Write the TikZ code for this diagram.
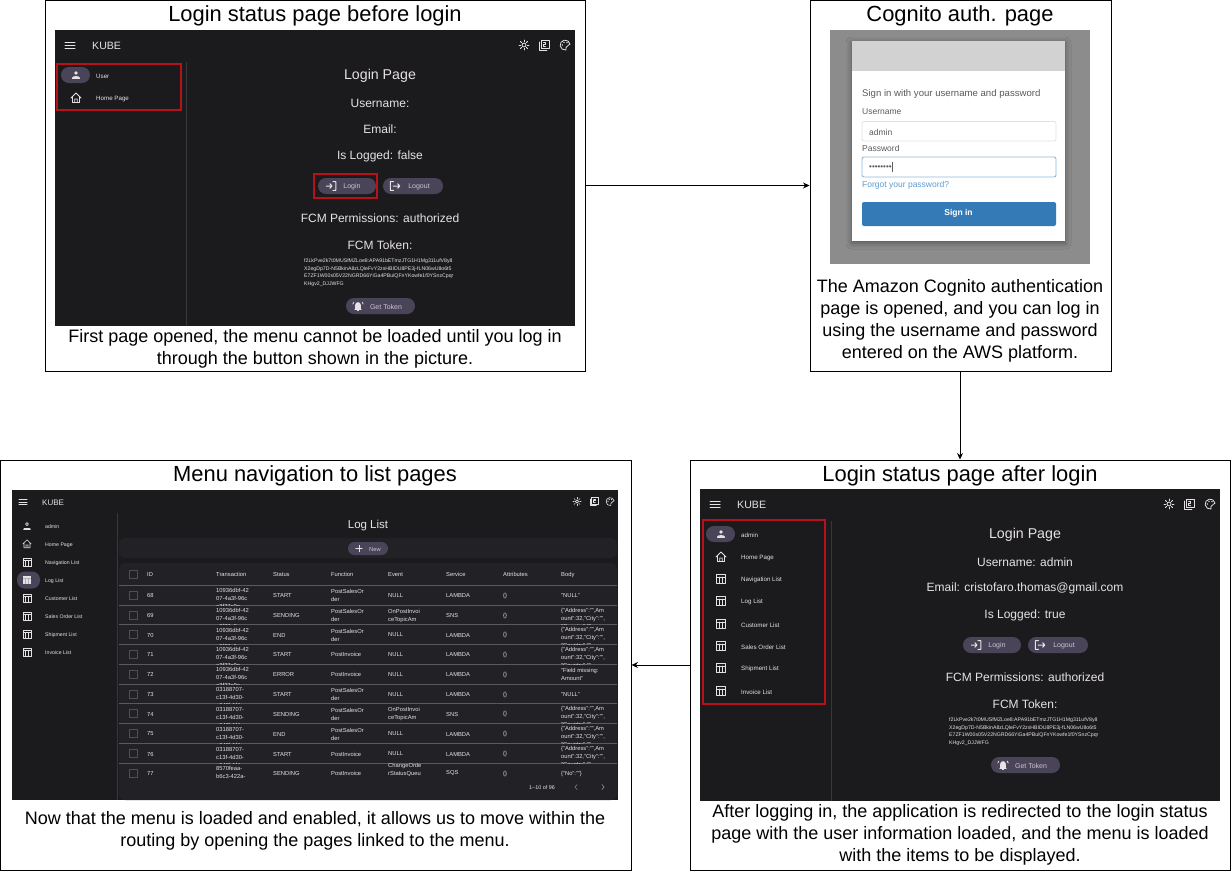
\documentclass[tikz,border=0pt]{standalone}
\usepackage{fontspec}
\setmainfont{Liberation Sans}
\usetikzlibrary{arrows.meta,shadows.blur}
\definecolor{scr}{HTML}{1B1B1E}
\definecolor{panelc}{HTML}{222226}
\definecolor{ink}{HTML}{E6E1E5}
\definecolor{inkb}{HTML}{CAC4D0}
\definecolor{btn}{HTML}{4A4458}
\definecolor{divc}{HTML}{38383C}
\definecolor{redbox}{HTML}{B5121B}
\definecolor{cogbg}{HTML}{8C8C8C}
\definecolor{coghead}{HTML}{D2D2D2}
\definecolor{cogblue}{HTML}{337AB7}
\definecolor{coglink}{HTML}{5C9BD1}
\definecolor{cogtxt}{HTML}{5A5A5A}
\tikzset{
  frame/.style={draw=black,line width=1pt,fill=white,inner sep=0pt},
  link/.style={draw=black,line width=.9pt,-{Stealth[length=6.5pt,width=6pt]}},
  titlec/.style={font=\fontsize{21.9}{25}\selectfont,text=black,inner sep=0pt},
  capc/.style={font=\fontsize{18}{22}\selectfont,text=black,align=center,inner sep=0pt},
  stxt/.style={text=ink,inner sep=0pt,yshift=-1pt,font=\fontsize{#1}{#1}\selectfont},
  btnshape/.style={fill=btn,rounded corners=8pt,draw=none},
  icn/.style={draw=ink,line width=.8pt,fill=none,line cap=round,line join=round},
  cell/.style={text=ink,inner sep=0pt,anchor=west,yshift=-.5pt,align=left,font=\fontsize{5.8}{8}\selectfont},
  ctxt/.style={inner sep=0pt,anchor=west,text=cogtxt,yshift=-1pt,font=\fontsize{#1}{#1}\selectfont},
  ictable/.pic={\draw[icn] (-4.5,-4.5) rectangle (4.5,4.5); \draw[icn] (-4.5,-2) -- (4.5,-2) (-1.5,-2) -- (-1.5,4.5) (1.5,-2) -- (1.5,4.5);},
  ictablef/.pic={\fill[ink] (-4.5,-4.5) rectangle (4.5,-1.5) (-4.5,-1) rectangle (-2,4.5) (-1.2,-1) rectangle (1.2,4.5) (2,-1) rectangle (4.5,4.5);},
  ichome/.pic={\draw[icn] (-5,0) -- (0,-5) -- (5,0) (-3.5,-1) -- (-3.5,4.5) -- (3.5,4.5) -- (3.5,-1) (-1.2,4.5) -- (-1.2,1) -- (1.2,1) -- (1.2,4.5);},
  icperson/.pic={\fill[ink] (0,-2.2) circle (2); \fill[ink] (-4,4) -- (-4,2.8) .. controls (-4,.6) and (4,.6) .. (4,2.8) -- (4,4) -- cycle;},
  icpersono/.pic={\draw[icn] (0,-2.2) circle (1.8); \draw[icn] (-4,4) -- (4,4) (-3.5,2.5) -- (3.5,2.5);},
  icmenu/.pic={\draw[icn,line width=1pt] (-5,-3) -- (5,-3) (-5,0) -- (5,0) (-5,3) -- (5,3);},
  icsun/.pic={\draw[icn] (0,0) circle (2); \foreach \a in {0,45,...,315} {\draw[icn] (\a:3.4) -- (\a:5);}},
  icnotes/.pic={\draw[icn] (-3,-5) rectangle (5,3); \draw[icn] (-5,-3) -- (-5,5) -- (3,5); \draw[icn,line width=.6pt] (-.5,-3) -- (1.5,-3) -- (1.5,-1) -- (-.5,-1) -- (-.5,1) -- (1.5,1);},
  icpalette/.pic={\draw[icn] (1,5) arc (80:350:5) .. controls (5,-1) and (2,1) .. (1,2.5) -- cycle; \fill[ink] (-2.6,0) circle (.8) (-1,-2.6) circle (.8) (2,-2.4) circle (.8);},
  iclogin/.pic={\draw[icn,line width=1pt] (-5,0) -- (1,0) (-1.2,-2.4) -- (1,0) -- (-1.2,2.4) (2,-4.5) -- (5,-4.5) -- (5,4.5) -- (2,4.5);},
  iclogout/.pic={\draw[icn,line width=1pt] (-1.5,-4.5) -- (-5,-4.5) -- (-5,4.5) -- (-1.5,4.5) (-2,0) -- (5,0) (2.8,-2.4) -- (5,0) -- (2.8,2.4);},
  icbell/.pic={\fill[ink] (-3,3) -- (-3,-1) .. controls (-3,-5) and (3,-5) .. (3,-1) -- (3,3) -- (4,4) -- (-4,4) -- cycle; \fill[ink] (-1,4.5) rectangle (1,5.5); \draw[icn] (-5.5,-2) -- (-4.5,-4) (5.5,-2) -- (4.5,-4);},
  icplus/.pic={\draw[icn,line width=1pt] (-3.5,0) -- (3.5,0) (0,-3.5) -- (0,3.5);},
  icchev/.pic={\draw[icn,draw=#1,line width=.7pt] (-1.2,-2.5) -- (1.2,0) -- (-1.2,2.5);},
  icchevl/.pic={\draw[icn,draw=#1,line width=.7pt] (1.2,-2.5) -- (-1.2,0) -- (1.2,2.5);}
}
\newcommand{\loginshot}[5]{%
  \fill[scr] (0,0) rectangle (520,#2);
  \draw[divc,line width=.7pt] (131,32) -- (131,#2);
  \pic at (15,15) {icmenu};
  \node[stxt=10.6,anchor=west] (#1kube) at (37,15) {KUBE};
  \pic at (469,15) {icsun};
  \pic at (489,15) {icnotes};
  \pic at (510,15) {icpalette};
  \node[stxt=14.2] (#1page) at (325,45) {Login Page};
  \node[stxt=12] (#1user) at (325,72) {Username:#3};
  \node[stxt=12] (#1mail) at (325,98) {Email:#4};
  \node[stxt=12] (#1log) at (325,125) {Is Logged: #5};
  \fill[btnshape] (263,148) rectangle (321,164);
  \fill[btnshape] (328,148) rectangle (388,164);
  \pic[scale=.95] at (276,156) {iclogin};
  \pic[scale=.95] at (340,156) {iclogout};
  \node[stxt=7,text=inkb] (#1blogin) at (297,156) {Login};
  \node[stxt=7,text=inkb] (#1blogout) at (364,156) {Logout};
  \node[stxt=12] (#1perm) at (325,187) {FCM Permissions: authorized};
  \node[stxt=12] (#1tok) at (325,214) {FCM Token:};
  \node[text=ink,inner sep=0pt,anchor=north west,align=left,font=\fontsize{5.2}{7.7}\selectfont] (#1tokv) at (249,228.5)
    {f2LkPve2k7t0MUSfMZLoe8:APA91bETmzJTG1H1Mg311ufV8y8\\X2egDp7D-N5BkinA8zLQleFvY2zsHBIDU8PE3j-fLN06wU8o6t5\\E7ZF1W00s05V22NGRD66YiGa4PBulQFnYKowfe1f0YSnzCpqr\\KHgv2\_DJJWFG};
  \fill[btnshape] (291,268) rectangle (360,284);
  \pic[scale=.95] at (303,276) {icbell};
  \node[stxt=7,text=inkb] (#1bget) at (331,276) {Get Token};
}
\newcommand{\sideitem}[4]{%
  \pic at (21,#2) {#3};
  \node[stxt=6.2,anchor=west] (#1) at (41,#2) {#4};
}
\newcommand{\lrow}[8]{%
  \begin{scope}
    \clip (119,#1) rectangle (617,#2);
    \draw[inkb!40!black,line width=.6pt] (129,#1+6) rectangle (137,#1+14);
    \node[cell] (id#3) at (147,#1+10) {#3};
    \node[cell] (tx#3) at (216,#1+13) {#4};
    \node[cell] (st#3) at (273,#1+10) {#5};
    \node[cell] (fn#3) at (331,#1+10) {#6};
    \node[cell] (ev#3) at (388,#1+10) {#7};
    \node[cell] (sv#3) at (446,#1+10) {#8};
    \node[cell] (at#3) at (503,#1+10) {\{\}};
  \end{scope}
}
\newcommand{\lbody}[5]{%
  \begin{scope}
    \clip (555,#1) rectangle (617,#2);
    \node[cell] (bd#3) at (561,#1+#4) {#5};
  \end{scope}
}
\newcommand{\txa}{10936dbf-42\\07-4a3f-96c\\a3f27c0e}
\newcommand{\txb}{03188707-\\c13f-4d30-\\a043b1f4}
\newcommand{\txc}{8570feaa-\\b6c3-422a-\\9d10}
\newcommand{\pso}{PostSalesOr\\der}
\newcommand{\opi}{OnPostInvoi\\ceTopicAm}
\newcommand{\jsn}{\{"Address":"",Am\\ount":32,"City":"",\\"Country":"",}
\begin{document}
\begin{tikzpicture}[x=1pt,y=-1pt]
\useasboundingbox (0,0) rectangle (1231,871);
\fill[white] (0,0) rectangle (1231,871);
\node[frame,minimum width=540pt,minimum height=371pt] (fa) at (315,185.5) {};
\node[frame,minimum width=301pt,minimum height=371pt] (fb) at (960.5,185.5) {};
\node[frame,minimum width=540pt,minimum height=410pt] (fc) at (960,665) {};
\node[frame,minimum width=631pt,minimum height=410pt] (fd) at (315.5,665) {};
\draw[link] (fa.east) -- (fb.west);
\draw[link] (fb.south -| fc.north) -- (fc.north);
\draw[link] (fc.west) -- (fd.east);
\node[titlec] (ta) at (315,15.5) {Login status page before login};
\node[titlec] (tb) at (960,15.5) {Cognito auth. page};
\node[titlec] (tc) at (960,475.5) {Login status page after login};
\node[titlec] (td) at (315,475.5) {Menu navigation to list pages};
\node[capc] (ca) at (315,349) {First page opened, the menu cannot be loaded until you log in\\through the button shown in the picture.};
\node[capc] (cb) at (960,321) {The Amazon Cognito authentication\\page is opened, and you can log in\\using the username and password\\entered on the AWS platform.};
\node[capc] (cc) at (960,835) {After logging in, the application is redirected to the login status\\page with the user information loaded, and the menu is loaded\\with the items to be displayed.};
\node[capc] (cd) at (315,830.5) {Now that the menu is loaded and enabled, it allows us to move within the\\routing by opening the pages linked to the menu.};
\begin{scope}[shift={(55,30)}]
  \loginshot{a}{296}{}{}{false}
  \fill[btnshape] (6,37) rectangle (35,53);
  \pic[scale=.95] at (21,45) {icperson};
  \node[stxt=6.2,anchor=west] (auser) at (41,45) {User};
  \sideitem{ahome}{68}{ichome}{Home Page}
  \draw[redbox,line width=1.2pt] (2,34) rectangle (126,80);
  \draw[redbox,line width=1.2pt] (259,144) rectangle (322,168);
\end{scope}
\begin{scope}[shift={(700,489)}]
  \loginshot{c}{312}{ admin}{ cristofaro.thomas@gmail.com}{true}
  \fill[btnshape] (6,37) rectangle (35,53);
  \pic[scale=.95] at (21,45) {icperson};
  \node[stxt=6.2,anchor=west] (cadmin) at (41,45) {admin};
  \sideitem{chome}{68}{ichome}{Home Page}
  \sideitem{cnav}{90}{ictable}{Navigation List}
  \sideitem{clog}{112}{ictable}{Log List}
  \sideitem{ccust}{135}{ictable}{Customer List}
  \sideitem{csales}{157}{ictable}{Sales Order List}
  \sideitem{cship}{179}{ictable}{Shipment List}
  \sideitem{cinv}{202}{ictable}{Invoice List}
  \draw[redbox,line width=1.2pt] (3,31) rectangle (125,215);
\end{scope}
\fill[cogbg] (830,30) rectangle (1090,264);
\fill[white,blur shadow={shadow xshift=0pt,shadow yshift=-2pt,shadow blur radius=6pt,shadow opacity=40}] (852,41) rectangle (1065,241);
\fill[coghead] (852,41) rectangle (1065,71);
\node[ctxt=9.6] (cgsign) at (862,93) {Sign in with your username and password};
\node[ctxt=8.5] (cguser) at (862,111) {Username};
\draw[fill=white,draw=black!12,line width=.7pt,rounded corners=2pt] (862,121.5) rectangle (1056,141);
\node[ctxt=8.5] (cgadmin) at (869,131) {admin};
\node[ctxt=8.5] (cgpass) at (862,147) {Password};
\draw[fill=white,draw=coglink!70,line width=.9pt,rounded corners=2pt] (862,157) rectangle (1056,177);
\node[ctxt=8] (cgdots) at (869,167) {••••••••};
\draw[cogtxt,line width=.5pt] (892,162) -- (892,172);
\node[ctxt=8.5,text=coglink] (cgforgot) at (862,184) {Forgot your password?};
\fill[cogblue,rounded corners=2pt] (862,202) rectangle (1056,226);
\node[inner sep=0pt,text=white,font=\bfseries\fontsize{8.5}{8.5}\selectfont] (cgbtn) at (958.5,213.5) {Sign in};
\fill[scr] (12,490) rectangle (618,800);
\draw[divc,line width=.7pt] (117.5,513) -- (117.5,800);
\begin{scope}
\tikzset{icn/.append style={line width=.6pt}}
\pic[scale=.8] at (23,502) {icmenu};
\node[stxt=8,anchor=west] (dkube) at (42,502) {KUBE};
\pic[scale=.8] at (577,501.5) {icsun};
\pic[scale=.8] at (594,501.5) {icnotes};
\pic[scale=.8] at (610,501.5) {icpalette};
\fill[btn,rounded corners=8pt] (17,571.5) rectangle (40,588.5);
\begin{scope}[shift={(6,481)},every pic/.append style={scale=.85}]
  \pic at (21,45) {icpersono};
  \pic at (21,63) {ichome};
  \pic at (21,81) {ictable};
  \pic at (21,99) {ictablef};
  \pic at (21,117) {ictable};
  \pic at (21,135) {ictable};
  \pic at (21,153) {ictable};
  \pic at (21,171) {ictable};
  \node[stxt=5.2,anchor=west] (dadmin) at (39,45) {admin};
  \node[stxt=5.2,anchor=west] (dhome) at (39,63) {Home Page};
  \node[stxt=5.2,anchor=west] (dnav) at (39,81) {Navigation List};
  \node[stxt=5.2,anchor=west] (dlog) at (39,99) {Log List};
  \node[stxt=5.2,anchor=west] (dcust) at (39,117) {Customer List};
  \node[stxt=5.2,anchor=west] (dsales) at (39,135) {Sales Order List};
  \node[stxt=5.2,anchor=west] (dship) at (39,153) {Shipment List};
  \node[stxt=5.2,anchor=west] (dinv) at (39,171) {Invoice List};
\end{scope}
\node[stxt=11.5] (dtitle) at (368,525) {Log List};
\fill[panelc,rounded corners=6pt] (119,538) rectangle (617,558);
\fill[btnshape,rounded corners=6.5pt] (348,542) rectangle (388,555);
\pic[scale=.9] at (359,548.5) {icplus};
\node[stxt=5.8,text=inkb] (dnew) at (375,548.5) {New};
\fill[panelc,rounded corners=6pt] (119,563) rectangle (617,800);
\draw[inkb!40!black,line width=.6pt] (129,570) rectangle (137,578);
\foreach \xx/\nm/\lb in {147/hid/ID,216/htx/Transaction,273/hst/Status,331/hfn/Function,388/hev/Event,446/hsv/Service,503/hat/Attributes,561/hbd/Body}
  {\node[cell] (\nm) at (\xx,574) {\lb};}
\foreach \yy in {585,605,624.5,644,664,684,703.5,723.5,743.5,763}
  {\draw[inkb!45!black,line width=.6pt] (119,\yy) -- (617,\yy);}
\lrow{585}{605}{68}{\txa}{START}{\pso}{NULL}{LAMBDA}
\lrow{605}{624.5}{69}{\txa}{SENDING}{\pso}{\opi}{SNS}
\lrow{624.5}{644}{70}{\txa}{END}{\pso}{NULL}{LAMBDA}
\lrow{644}{664}{71}{\txa}{START}{PostInvoice}{NULL}{LAMBDA}
\lrow{664}{684}{72}{\txa}{ERROR}{PostInvoice}{NULL}{LAMBDA}
\lrow{684}{703.5}{73}{\txb}{START}{\pso}{NULL}{LAMBDA}
\lrow{703.5}{723.5}{74}{\txb}{SENDING}{\pso}{\opi}{SNS}
\lrow{723.5}{743.5}{75}{\txb}{END}{\pso}{NULL}{LAMBDA}
\lrow{743.5}{763}{76}{\txb}{START}{PostInvoice}{NULL}{LAMBDA}
\lrow{763}{778}{77}{\txc}{SENDING}{PostInvoice}{ChangeOrde\\rStatusQueu\\e}{SQS}
\lbody{585}{605}{68}{10}{"NULL"}
\lbody{605}{624.5}{69}{13}{\jsn}
\lbody{624.5}{644}{70}{13}{\jsn}
\lbody{644}{664}{71}{13}{\jsn}
\lbody{664}{684}{72}{10}{"Field missing:\\Amount"}
\lbody{684}{703.5}{73}{10}{"NULL"}
\lbody{703.5}{723.5}{74}{13}{\jsn}
\lbody{723.5}{743.5}{75}{13}{\jsn}
\lbody{743.5}{763}{76}{13}{\jsn}
\lbody{763}{778}{77}{10}{\{"No":""\}}
\node[stxt=5.4] (dfoot) at (542,787) {1–10 of 96};
\pic at (576,787) {icchevl={black!55}};
\pic at (603,787) {icchev={inkb!70!black}};
\end{scope}
\end{tikzpicture}
\end{document}
